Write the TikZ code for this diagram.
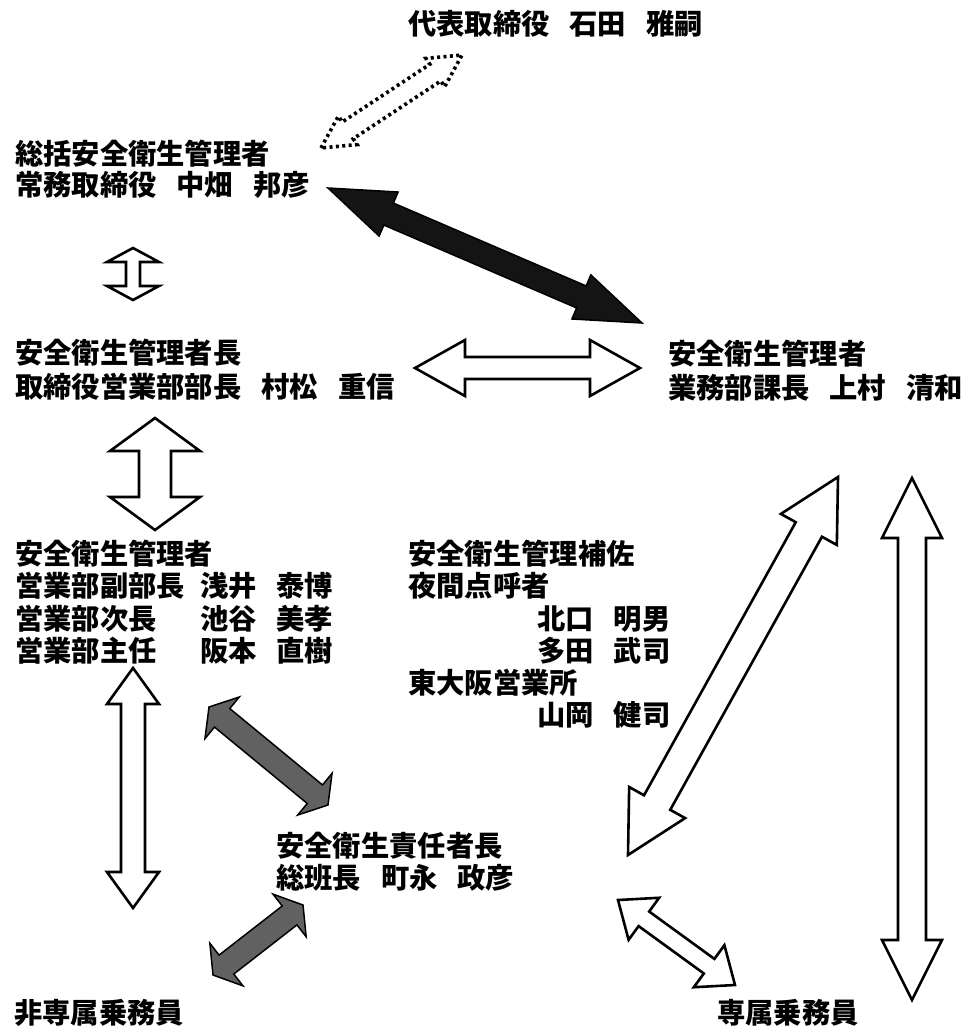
\documentclass[tikz,border=0pt]{standalone}
\usepackage{fontspec}
\newfontfamily\jp{Noto Sans CJK JP}
\usetikzlibrary{calc}
\newcommand{\dblarr}[6]{%
 \coordinate (#2-h) at ($(#2)!#6!(#3)$);
 \coordinate (#3-h) at ($(#3)!#6!(#2)$);
 \draw[#1] (#2) -- ($(#2-h)!#5!90:(#3)$) -- ($(#2-h)!#4!90:(#3)$) -- ($(#3-h)!#4!-90:(#2)$) -- ($(#3-h)!#5!-90:(#2)$) -- (#3) -- ($(#3-h)!#5!90:(#2)$) -- ($(#3-h)!#4!90:(#2)$) -- ($(#2-h)!#4!-90:(#3)$) -- ($(#2-h)!#5!-90:(#3)$) -- cycle;}
\newcommand{\jsp}{\hspace{20pt}}
\begin{document}
\begin{tikzpicture}[x=1pt,y=-1pt,
  lbl/.style={anchor=base west,inner sep=0pt,font=\jp\bfseries\fontsize{28.3}{32}\selectfont},
  wharrow/.style={draw=black,fill=white,line width=2.6pt,line join=miter},
  blkarrow/.style={draw=black,fill=black!92,line width=1.5pt,line join=miter},
  grarrow/.style={draw=black,fill=black!62,line width=1.5pt,line join=miter},
  dotarrow/.style={draw=black,fill=white,line width=3.6pt,dash pattern=on 3pt off 3.4pt,line join=miter}]
\useasboundingbox (0,0) rectangle (971,1031);
% texts
\node[lbl] (pres) at (408,34) {代表取締役\jsp 石田\jsp 雅嗣};
\node[lbl] (gen1) at (15,164) {総括安全衛生管理者};
\node[lbl] (gen2) at (15,195) {常務取締役\jsp 中畑\jsp 邦彦};
\node[lbl] (chief1) at (15,363) {安全衛生管理者長};
\node[lbl] (chief2) at (15,397) {取締役営業部部長\jsp 村松\jsp 重信};
\node[lbl] (mgr1) at (668,364) {安全衛生管理者};
\node[lbl] (mgr2) at (668,398) {業務部課長\jsp 上村\jsp 清和};
\node[lbl] (sub1) at (15,564) {安全衛生管理者};
\node[lbl] (sub2) at (15,596) {営業部副部長};
\node[lbl] (sub2n) at (200,596) {浅井};
\node[lbl] (sub2m) at (276,596) {泰博};
\node[lbl] (sub3) at (15,629) {営業部次長};
\node[lbl] (sub3n) at (200,629) {池谷};
\node[lbl] (sub3m) at (276,629) {美孝};
\node[lbl] (sub4) at (15,661) {営業部主任};
\node[lbl] (sub4n) at (200,661) {阪本};
\node[lbl] (sub4m) at (276,661) {直樹};
\node[lbl] (as1) at (408,564) {安全衛生管理補佐};
\node[lbl] (as2) at (408,596) {夜間点呼者};
\node[lbl] (as3) at (537,629) {北口\jsp 明男};
\node[lbl] (as4) at (537,661) {多田\jsp 武司};
\node[lbl] (as5) at (408,693) {東大阪営業所};
\node[lbl] (as6) at (537,725) {山岡\jsp 健司};
\node[lbl] (resp1) at (276,856) {安全衛生責任者長};
\node[lbl] (resp2) at (276,888) {総班長\jsp 町永\jsp 政彦};
\node[lbl] (nons) at (14,1023) {非専属乗務員};
\node[lbl] (excl) at (717,1023) {専属乗務員};
% arrow end points
\coordinate (d1) at (321,148); \coordinate (d2) at (462,55);
\coordinate (b1) at (328,188); \coordinate (b2) at (642,323);
\coordinate (v1) at (133,248); \coordinate (v2) at (133,300);
\coordinate (h1) at (415,368); \coordinate (h2) at (640,368);
\coordinate (w1) at (155,418); \coordinate (w2) at (155,530);
\coordinate (l1) at (133,668); \coordinate (l2) at (133,908);
\coordinate (g1) at (209,707); \coordinate (g2) at (328,805);
\coordinate (k1) at (213,975); \coordinate (k2) at (303,905);
\coordinate (r1) at (838,477); \coordinate (r2) at (628,855);
\coordinate (s1) at (912,478); \coordinate (s2) at (912,1000);
\coordinate (e1) at (618,900); \coordinate (e2) at (735,985);
% arrows
\dblarr{dotarrow}{d1}{d2}{10pt}{17pt}{32pt}
\dblarr{blkarrow}{b1}{b2}{12pt}{24pt}{66pt}
\dblarr{wharrow}{v1}{v2}{7pt}{26pt}{14pt}
\dblarr{wharrow}{h1}{h2}{11pt}{28pt}{50pt}
\dblarr{wharrow}{w1}{w2}{16pt}{45pt}{33pt}
\dblarr{wharrow}{l1}{l2}{12pt}{26pt}{36pt}
\dblarr{grarrow}{g1}{g2}{12pt}{27pt}{17pt}
\dblarr{grarrow}{k1}{k2}{12pt}{27pt}{17pt}
\dblarr{wharrow}{r1}{r2}{15pt}{32pt}{60pt}
\dblarr{wharrow}{s1}{s2}{14pt}{30pt}{60pt}
\dblarr{wharrow}{e1}{e2}{9pt}{26pt}{32pt}
\end{tikzpicture}
\end{document}
